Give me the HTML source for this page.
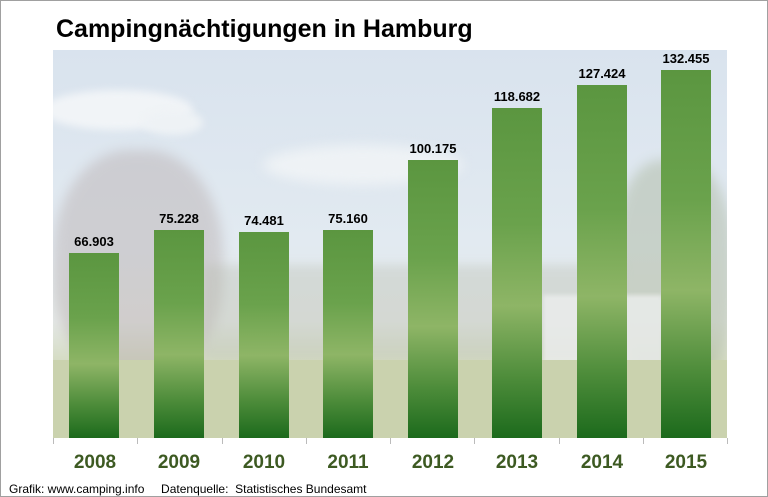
<!DOCTYPE html>
<html><head><meta charset="utf-8"><style>
body{margin:0;background:#fff}
#c{position:relative;width:766px;height:495px;border:1px solid #a0a0a0;overflow:hidden;font-family:"Liberation Sans",Arial,sans-serif;background:#fff}
.t{position:absolute;left:55px;top:14px;font-size:25px;font-weight:bold;color:#000}
.bg{position:absolute;left:52px;top:49px;width:674px;height:388px;overflow:hidden;
background:linear-gradient(#d9e3ee 0%,#e2eaf1 50%,#e4e8e6 70%,#d5dcc4 80%,#cdd5b3 100%)}
.bar{position:absolute;width:50px;background:linear-gradient(#5b9640 0%,#6aa24c 35%,#8eb566 60%,#4d8c3a 82%,#1c6a1c 100%)}
.v{position:absolute;width:84px;text-align:center;font-size:13px;font-weight:bold;color:#000}
.y{position:absolute;top:451px;width:84px;text-align:center;font-size:19px;font-weight:bold;color:#3d5a22}
.tk{position:absolute;top:437px;width:1px;height:6px;background:#bbb}
.f{position:absolute;top:481px;left:8px;font-size:12px;color:#000;white-space:pre}
</style></head><body><div id="c">
<div class="t">Campingnächtigungen in Hamburg</div>
<div class="bg">
<div style="position:absolute;left:-10px;top:40px;width:150px;height:40px;border-radius:50%;background:#f1f4f7;filter:blur(4px)"></div>
<div style="position:absolute;left:90px;top:60px;width:60px;height:25px;border-radius:50%;background:#eef2f5;filter:blur(4px)"></div>
<div style="position:absolute;left:210px;top:95px;width:200px;height:40px;border-radius:50%;background:#eef2f5;filter:blur(6px)"></div>
<div style="position:absolute;left:0;top:100px;width:170px;height:230px;border-radius:45%;background:#b8aeae;opacity:.45;filter:blur(6px)"></div>
<div style="position:absolute;left:560px;top:110px;width:120px;height:230px;border-radius:40%;background:#a8b49a;opacity:.45;filter:blur(6px)"></div>
<div style="position:absolute;left:150px;top:215px;width:420px;height:95px;background:#b8bdb0;opacity:.35;filter:blur(5px)"></div>
<div style="position:absolute;left:490px;top:245px;width:120px;height:110px;background:#eceeee;opacity:.8;filter:blur(2px)"></div>
<div style="position:absolute;left:0;top:310px;width:674px;height:78px;background:#cad2ae"></div>
</div>
<div class="tk" style="left:52px"></div><div class="tk" style="left:136px"></div><div class="tk" style="left:221px"></div><div class="tk" style="left:305px"></div><div class="tk" style="left:389px"></div><div class="tk" style="left:473px"></div><div class="tk" style="left:558px"></div><div class="tk" style="left:642px"></div><div class="tk" style="left:726px"></div>
<div class="bar" style="left:68px;top:252px;height:185px"></div>
<div class="bar" style="left:153px;top:229px;height:208px"></div>
<div class="bar" style="left:238px;top:231px;height:206px"></div>
<div class="bar" style="left:322px;top:229px;height:208px"></div>
<div class="bar" style="left:407px;top:159px;height:278px"></div>
<div class="bar" style="left:491px;top:107px;height:330px"></div>
<div class="bar" style="left:576px;top:84px;height:353px"></div>
<div class="bar" style="left:660px;top:69px;height:368px"></div>
<div class="v" style="left:51px;top:233px">66.903</div>
<div class="v" style="left:136px;top:210px">75.228</div>
<div class="v" style="left:221px;top:212px">74.481</div>
<div class="v" style="left:305px;top:210px">75.160</div>
<div class="v" style="left:390px;top:140px">100.175</div>
<div class="v" style="left:474px;top:88px">118.682</div>
<div class="v" style="left:559px;top:65px">127.424</div>
<div class="v" style="left:643px;top:50px">132.455</div>
<div class="y" style="left:52px">2008</div><div class="y" style="left:136px">2009</div><div class="y" style="left:221px">2010</div><div class="y" style="left:305px">2011</div><div class="y" style="left:390px">2012</div><div class="y" style="left:474px">2013</div><div class="y" style="left:559px">2014</div><div class="y" style="left:643px">2015</div>
<div class="f">Grafik: www.camping.info     Datenquelle:  Statistisches Bundesamt</div>
</div></body></html>
